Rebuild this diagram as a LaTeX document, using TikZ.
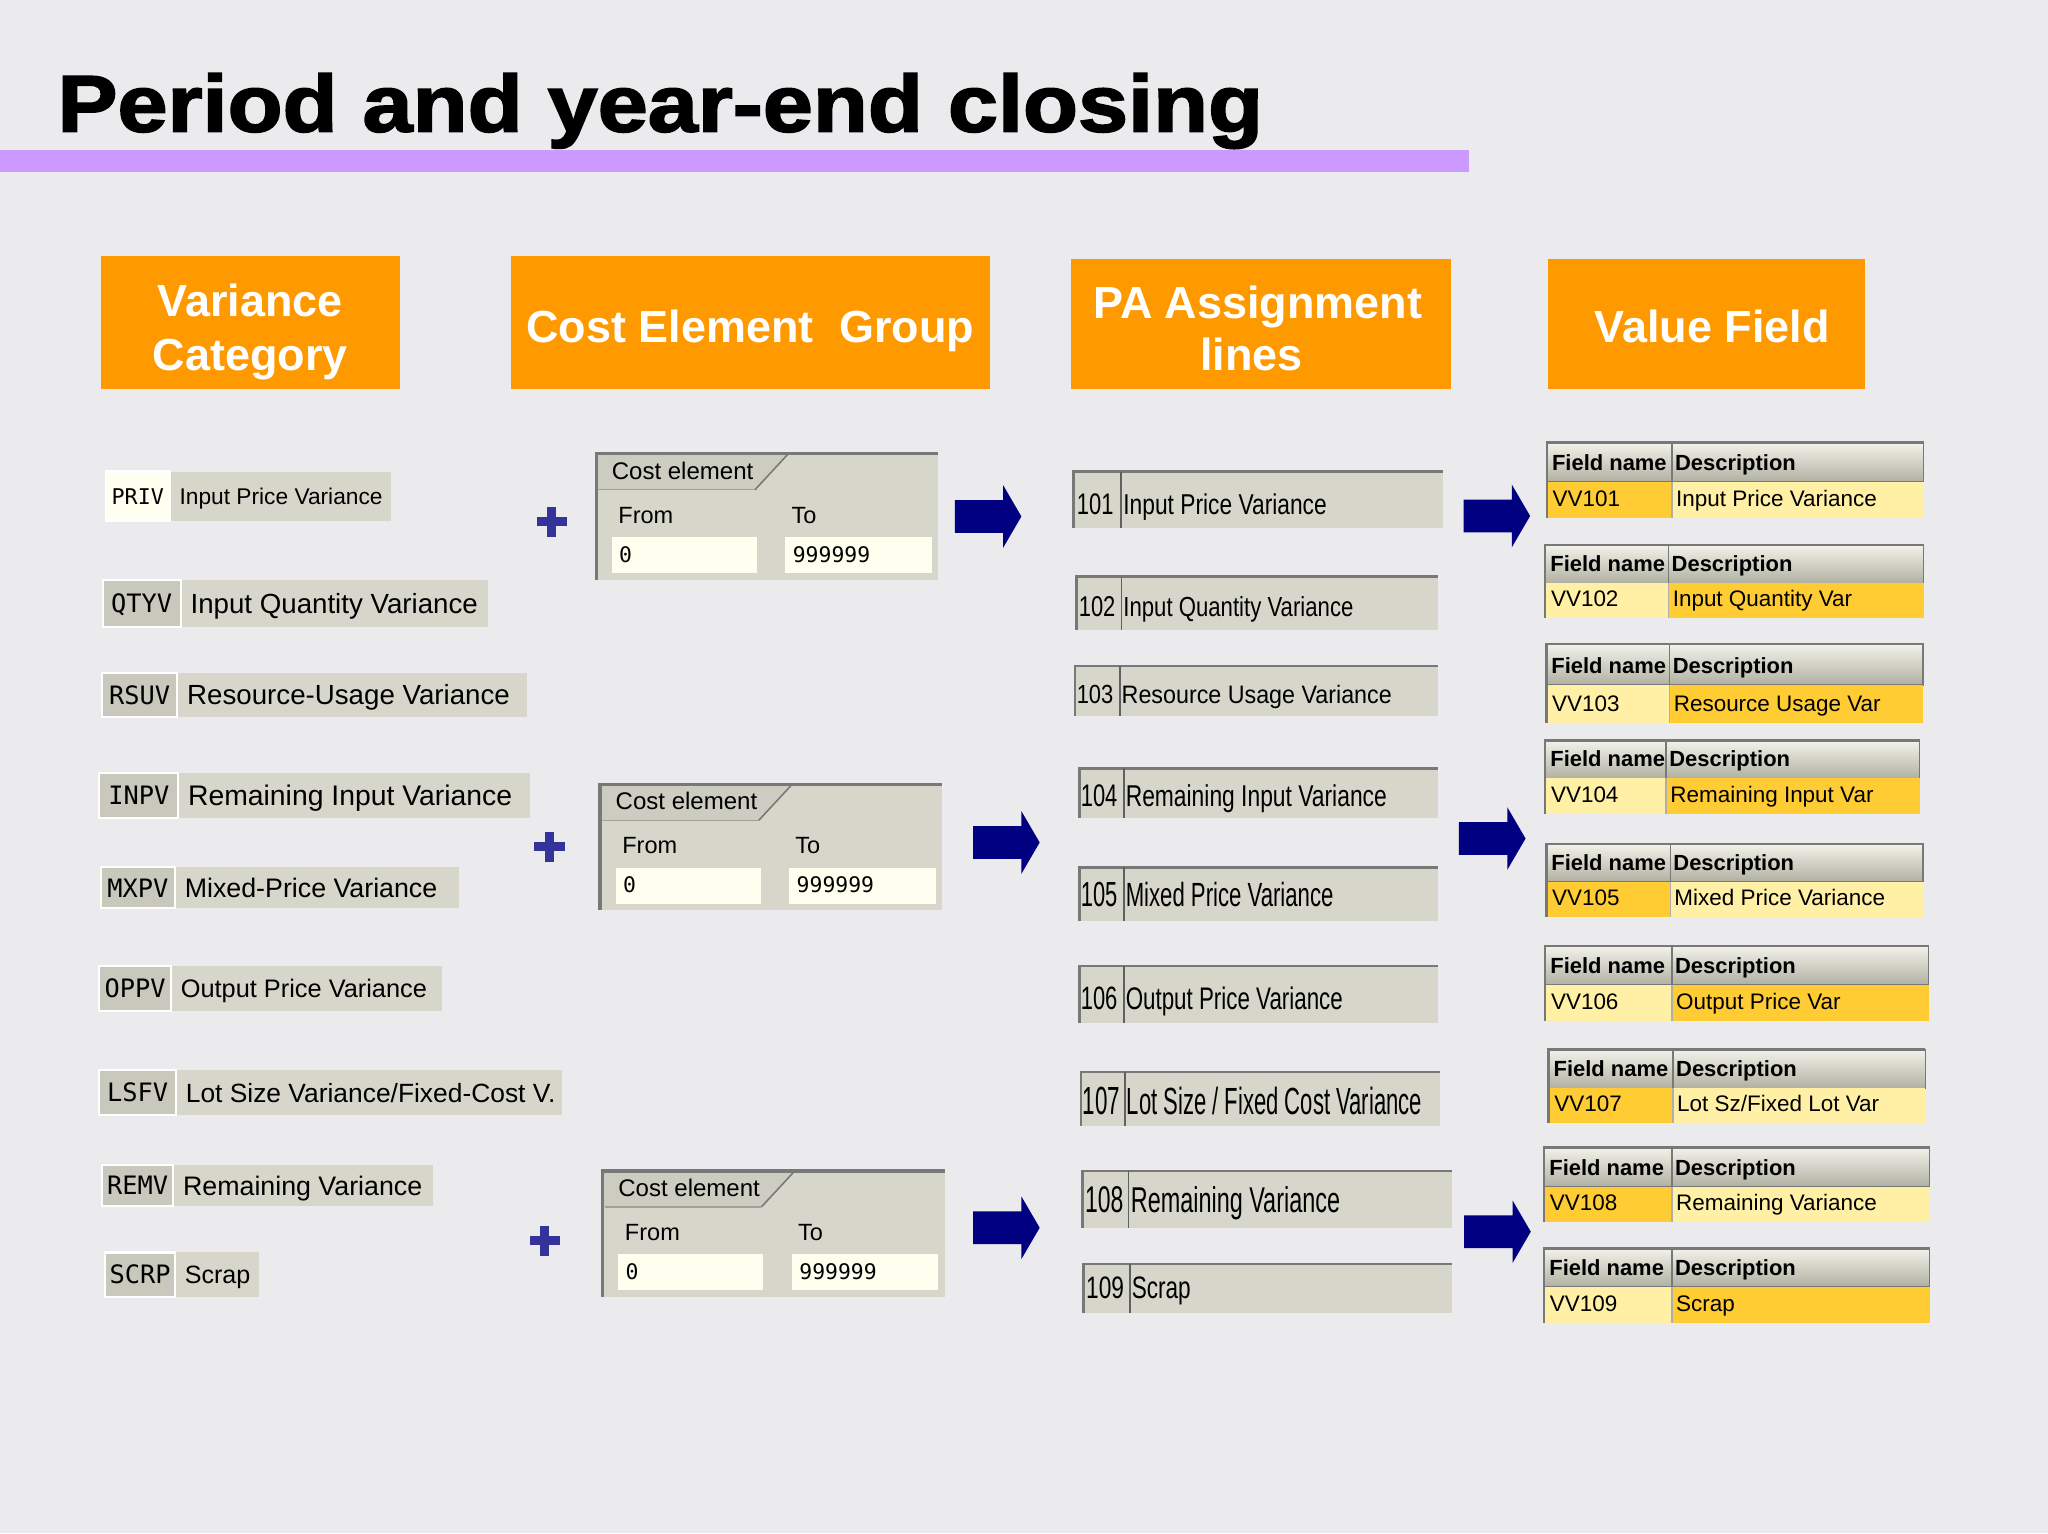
\documentclass[tikz,border=0pt]{standalone}
\usepackage{fontspec}
\setmainfont{Liberation Sans}
\newfontfamily\monof{DejaVu Sans Mono}
\newfontfamily\titlef[FakeBold=2]{Liberation Sans Bold}
\usepackage{graphicx}

\definecolor{bgc}{RGB}{235,234,237}
\definecolor{barc}{RGB}{204,153,255}
\definecolor{orangec}{RGB}{255,153,0}
\definecolor{sapg}{RGB}{214,214,202}
\definecolor{codeg}{RGB}{200,200,188}
\definecolor{creamc}{RGB}{255,255,240}
\definecolor{cetab}{RGB}{204,204,192}
\definecolor{edgec}{RGB}{120,120,120}
\definecolor{navyc}{RGB}{0,0,128}
\definecolor{plusc}{RGB}{51,51,153}
\definecolor{ydark}{RGB}{255,204,51}
\definecolor{ylight}{RGB}{255,240,165}
\definecolor{hdtop}{RGB}{242,242,234}
\definecolor{hdbot}{RGB}{176,176,162}

\newdimen\pxu \pxu=0.5pt
\newcommand{\fitt}[3]{\resizebox{#1\pxu}{#2\pxu}{#3}}

\tikzset{
  txt/.style={inner sep=0pt, outer sep=0pt, text=black},
  hdr/.style={txt, text=white, font=\bfseries\fontsize{17.2pt}{21pt}\selectfont, anchor=base},
  cetext/.style={txt, anchor=base west, font=\fontsize{9pt}{10pt}\selectfont},
  cenum/.style={txt, anchor=base west, font=\monof\fontsize{8.2pt}{10pt}\selectfont},
  hdtext/.style={txt, anchor=base west, font=\bfseries\fontsize{8.4pt}{10pt}\selectfont},
  vtext/.style={txt, anchor=base west, font=\fontsize{8.6pt}{10pt}\selectfont},
}

% variance category row
\newcommand{\vcat}[9]{%
  \fill[sapg] (#2,#5) rectangle (#4,#6);
  \filldraw[fill=#1, draw=white, line width=0.8pt] (#2,#5) rectangle (#3,#6);
  \pgfmathsetmacro\cfs{#9<9 ? 8.3 : 9.7}%
  \pgfmathsetmacro\yc{(#5+#6)/2}%
  \node[txt, anchor=base, font=\monof\fontsize{\cfs pt}{\cfs pt}\selectfont] (#7) at ({(#2+#3)/2},{\yc+0.729*\cfs}) {#7};
  \node[txt, anchor=base west, font=\fontsize{#9pt}{#9pt}\selectfont] (#7-d) at ({#3+7.5},{\yc+0.716*#9}) {#8};
}

% cost element group box
\newcommand{\cebox}[3]{%
\begin{scope}[shift={(#2,#3)}]
  \fill[sapg] (456.4,347) rectangle (718.5,444);
  \fill[cetab] (457,348) -- (603,348) -- (578,375) -- (457,375) -- cycle;
  \draw[edgec, line width=0.6pt] (578,375) -- (603,348);
  \draw[edgec!70, line width=0.5pt] (458,375) -- (578,375);
  \draw[edgec, line width=1.2pt] (456.4,444) -- (456.4,347.5) -- (718.5,347.5);
  \fill[creamc] (468.4,411.4) rectangle (579.4,439);
  \fill[creamc] (601,411.4) rectangle (713.4,439);
  \node[txt, anchor=base west, font=\fontsize{9.2pt}{10pt}\selectfont] (ce#1) at (468.4,367) {Cost element};
  \node[cetext] (from#1) at (473.5,400.7) {From};
  \node[cetext] (to#1) at (606,400.7) {To};
  \node[cenum] (zero#1) at (474,430.6) {0};
  \node[cenum] (max#1) at (607,430.6) {999999};
\end{scope}}

% block arrow: left x, centre y
\newcommand{\barrow}[2]{%
  \fill[navyc] (#1,{#2-12.5}) -- ++(37,0) -- ++(0,-11.5) -- ++(14,24) -- ++(-14,24) -- ++(0,-11.5) -- ++(-37,0) -- cycle;}

% plus sign
\newcommand{\plussign}[2]{%
  \fill[plusc] ({#1-11.5},{#2-3.5}) rectangle ({#1+11.5},{#2+3.5});
  \fill[plusc] ({#1-3.5},{#2-11.5}) rectangle ({#1+3.5},{#2+11.5});}

% PA line box
\newcommand{\paline}[5]{%
  \fill[sapg] (#1,#3) rectangle (#2,#4);
  \draw[edgec, line width=1pt] (#1,#4) -- (#1,#3) -- (#2,#3);
  \draw[edgec!80!black, line width=0.5pt] (#5,#3) -- (#5,#4);}

% value field table
\newcommand{\vtab}[9]{%
  \ifx A#1\def\fcol{ydark}\def\dcol{ylight}\else\def\fcol{ylight}\def\dcol{ydark}\fi
  \shade[top color=hdtop, bottom color=hdbot] (#2,#4) rectangle (#7,#5);
  \shade[top color=hdtop, bottom color=hdbot] (#7,#4) rectangle (#3,#5);
  \draw[edgec, line width=0.5pt] (#2,#4) rectangle (#7,#5);
  \draw[edgec, line width=0.5pt] (#7,#4) rectangle (#3,#5);
  \fill[\fcol] (#2,#5) rectangle (#7,#6);
  \fill[\dcol] (#7,#5) rectangle (#3,#6);
  \draw[edgec, line width=1pt] (#2,#6) -- (#2,#4) -- (#3,#4);
  \draw[edgec!60, line width=0.5pt] (#7,#5) -- (#7,#6);
  \node[hdtext] (#8h) at ({#2+4},{#5-8.8}) {Field name};
  \node[hdtext] (#8hd) at ({#7+2.5},{#5-8.8}) {Description};
  \node[vtext] (#8) at ({#2+4.5},{#6-8.9}) {#8};
  \node[vtext] (#8d) at ({#7+3.3},{#6-8.9}) {#9};
}

\begin{document}
\begin{tikzpicture}[x=0.5pt, y=-0.5pt]
\useasboundingbox (0,0) rectangle (1568,1174);
\fill[bgc] (0,0) rectangle (1568,1174);

% title
\node[txt, anchor=base west] (title) at (44,100.8) {\fitt{923}{44.7}{\titlef Period and year-end closing}};
\fill[barc] (0,115) rectangle (1125,131.4);

% orange headers
\fill[orangec] (77,196) rectangle (306,298);
\fill[orangec] (391,196) rectangle (758,298);
\fill[orangec] (820,198) rectangle (1111,298);
\fill[orangec] (1185,198) rectangle (1428,298);
\node[hdr] (h1a) at (191.5,242) {Variance};
\node[hdr] (h1b) at (191.5,284) {Category};
\node[hdr] (h2) at (574.5,262) {Cost Element\hspace{0.3em} Group};
\node[hdr] (h3a) at (963,243.5) {PA Assignment};
\node[hdr] (h3b) at (958,284) {lines};
\node[hdr] (h4) at (1311,262) {Value Field};

% variance categories
\vcat{creamc}{81}{130}{299.5}{361}{399}{PRIV}{Input Price Variance}{8.7}
\vcat{codeg}{78.6}{138.4}{373.7}{444}{480}{QTYV}{Input Quantity Variance}{10.6}
\vcat{codeg}{77.9}{135.8}{403.3}{515}{549}{RSUV}{Resource-Usage Variance}{10.6}
\vcat{codeg}{76}{136.5}{405.8}{591.6}{626.6}{INPV}{Remaining Input Variance}{10.85}
\vcat{codeg}{77.3}{134}{351.7}{664}{695.5}{MXPV}{Mixed-Price Variance}{10.25}
\vcat{codeg}{76}{131}{338.2}{739.4}{773.9}{OPPV}{Output Price Variance}{9.7}
\vcat{codeg}{76}{134.8}{430}{819.3}{853.8}{LSFV}{Lot Size Variance/Fixed-Cost V.}{10.1}
\vcat{codeg}{77.9}{132.7}{331.3}{892}{923.5}{REMV}{Remaining Variance}{10.25}
\vcat{codeg}{80.4}{134}{198.6}{958.9}{992.9}{SCRP}{Scrap}{9.6}

% plus signs
\plussign{422.5}{399.5}
\plussign{420.7}{648.3}
\plussign{417}{950}

% cost element groups
\cebox{1}{0}{0}
\cebox{2}{3}{253}
\cebox{3}{5}{549}

% arrows
\barrow{731}{395.4}
\barrow{745}{645}
\barrow{745}{940}
\barrow{1120.5}{395}
\barrow{1117}{642}
\barrow{1121}{943}

% PA assignment lines
\paline{821.8}{1105.1}{361.2}{404.5}{858.3}
\node[txt, anchor=base west] (pa101n) at (824.5,393.6) {\fitt{28}{15.9}{101}};
\node[txt, anchor=base west] (pa101t) at (860.1,393.6) {\fitt{155.7}{15.9}{Input Price Variance}};

\paline{824.4}{1101.3}{441.5}{482.4}{858.8}
\node[txt, anchor=base west] (pa102n) at (826,472.2) {\fitt{28}{15.3}{102}};
\node[txt, anchor=base west] (pa102t) at (860.1,472.2) {\fitt{176.1}{15.3}{Input Quantity Variance}};

\paline{823.1}{1101.3}{510}{548.2}{857.6}
\node[txt, anchor=base west] (pa103n) at (824.4,538.5) {\fitt{28}{14}{103}};
\node[txt, anchor=base west] (pa103t) at (858.8,538.5) {\fitt{206.8}{14}{Resource Usage Variance}};

\paline{826.4}{1101.3}{588.3}{626.6}{860.6}
\node[txt, anchor=base west] (pa104n) at (827.5,617.7) {\fitt{28}{16.7}{104}};
\node[txt, anchor=base west] (pa104t) at (861.9,617.7) {\fitt{199.9}{16.7}{Remaining Input Variance}};

\paline{826.4}{1101.3}{664.1}{705}{860.6}
\node[txt, anchor=base west] (pa105n) at (827.5,693.7) {\fitt{28}{18.6}{105}};
\node[txt, anchor=base west] (pa105t) at (861.9,693.7) {\fitt{159}{18.6}{Mixed Price Variance}};

\paline{826.4}{1101.3}{739.7}{783.5}{860.6}
\node[txt, anchor=base west] (pa106n) at (827.5,772.8) {\fitt{28}{17.3}{106}};
\node[txt, anchor=base west] (pa106t) at (861.9,772.8) {\fitt{166.2}{17.3}{Output Price Variance}};

\paline{827.5}{1102.6}{820.6}{862}{861.4}
\node[txt, anchor=base west] (pa107n) at (829,853) {\fitt{28.6}{21}{107}};
\node[txt, anchor=base west] (pa107t) at (862.7,853) {\fitt{225.9}{21}{Lot Size / Fixed Cost Variance}};

\paline{829}{1111.5}{896.4}{940}{864}
\node[txt, anchor=base west] (pa108n) at (830.8,928.5) {\fitt{29.3}{19.9}{108}};
\node[txt, anchor=base west] (pa108t) at (865.8,928.5) {\fitt{160.2}{19.9}{Remaining Variance}};

\paline{829.5}{1111.5}{967.8}{1005.6}{865.2}
\node[txt, anchor=base west] (pa109n) at (831.6,994.1) {\fitt{29}{16.6}{109}};
\node[txt, anchor=base west] (pa109t) at (866.5,994.1) {\fitt{45.2}{16.6}{Scrap}};

% value field tables
\vtab{A}{1184.3}{1472.7}{339}{368.8}{396.9}{1280}{VV101}{Input Price Variance}
\vtab{B}{1183}{1472.7}{417.3}{446.6}{473.5}{1277.4}{VV102}{Input Quantity Var}
\vtab{B}{1183.8}{1472.2}{493.1}{524.5}{553.4}{1278.2}{VV103}{Resource Usage Var}
\vtab{B}{1183}{1469.6}{567.1}{596}{623.3}{1275.6}{VV104}{Remaining Input Var}
\vtab{A}{1183.8}{1472.2}{646.2}{675.1}{701.9}{1278.7}{VV105}{Mixed Price Variance}
\vtab{B}{1183}{1476.5}{724.3}{754.2}{781.5}{1280}{VV106}{Output Price Var}
\vtab{A}{1185.5}{1474}{803.5}{833.3}{860.1}{1280.8}{VV107}{Lot Sz/Fixed Lot Var}
\vtab{A}{1182.2}{1477.3}{878.5}{908.6}{935.4}{1280}{VV108}{Remaining Variance}
\vtab{B}{1182.2}{1477.3}{955.8}{985.2}{1012.8}{1280}{VV109}{Scrap}
\end{tikzpicture}
\end{document}
